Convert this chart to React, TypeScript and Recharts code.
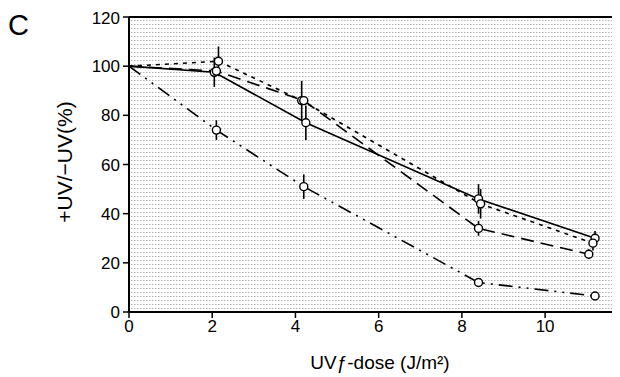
import { CartesianGrid, ErrorBar, Line, LineChart, ReferenceLine, XAxis, YAxis } from "recharts";

// dose (J/m2), survival (+UV/-UV %), error bar half-height, per curve
const solidDose = [0, 2.05, 4.25, 8.4, 11.2];
const solidPct = [100, 97.5, 77, 46, 30];
const solidErr = [0, 6, 7, 6, 3];

const dotDose = [0, 2.15, 4.15, 8.45, 11.15];
const dotPct = [100, 102, 86, 44, 28];
const dotErr = [0, 6, 8, 6, 3];

const dashDose = [0, 2.1, 4.2, 8.4, 11.05];
const dashPct = [100, 98, 86, 34, 23.5];
const dashErr = [0, 0, 0, 3, 2];

const dashDotDose = [0, 2.1, 4.2, 8.4, 11.2];
const dashDotPct = [100, 74, 51, 12, 6.5];
const dashDotErr = [0, 4, 5, 1.5, 1];

const xTicks = [0, 2, 4, 6, 8, 10];
const yTicks = [0, 20, 40, 60, 80, 100, 120];

const toRows = (xs: number[], ys: number[], es: number[]) => xs.map((x, i) => ({ x, y: ys[i], err: es[i] }));

const series = [
  { name: "solid", data: toRows(solidDose, solidPct, solidErr), dash: undefined },
  { name: "dotted", data: toRows(dotDose, dotPct, dotErr), dash: "4 5" },
  { name: "dashed", data: toRows(dashDose, dashPct, dashErr), dash: "13 7" },
  { name: "dashdot", data: toRows(dashDotDose, dashDotPct, dashDotErr), dash: "14 6 2 6 2 6" },
];

const font = "'Liberation Sans', Arial, Helvetica, sans-serif";

const renderDot = (props: any) => {
  const { cx, cy, index } = props;
  if (index === 0) return <g key={`d-${index}`} />;
  return <circle key={`d-${index}`} cx={cx} cy={cy} r={4} fill="#fff" stroke="#000" strokeWidth={1.4} />;
};

export default function App(): JSX.Element {
  return (
    <div style={{ position: "relative", width: 612, height: 369, fontFamily: font, color: "#000" }}>
      <div style={{ position: "absolute", left: 0, top: 0, fontSize: 29, lineHeight: "34px" }}>C</div>
      <div
        style={{
          position: "absolute",
          left: 57,
          top: 154,
          transform: "translate(-50%, -50%) rotate(-90deg)",
          whiteSpace: "nowrap",
          fontSize: 21,
        }}
      >
        +UV/−UV(%)
      </div>
      <div
        style={{
          position: "absolute",
          left: 372,
          top: 355,
          transform: "translate(-50%, -50%)",
          whiteSpace: "nowrap",
          fontSize: 19,
        }}
      >
        UVƒ-dose (J/m²)
      </div>
      <LineChart width={612} height={369} margin={{ top: 9, right: 0, left: 71, bottom: 35 }}>
        <defs>
          <pattern id="hatch" width="9" height="4" patternUnits="userSpaceOnUse">
            <rect x="0" y="0" width="9" height="4" fill="#fff" />
            <line x1="0" y1="0.5" x2="9" y2="0.5" stroke="#b4b4b4" strokeWidth="1" strokeDasharray="1.5 1.5" />
          </pattern>
        </defs>
        <CartesianGrid horizontal={false} vertical={false} fill="url(#hatch)" />
        <XAxis
          type="number"
          dataKey="x"
          domain={[0, 11.8]}
          ticks={xTicks}
          allowDataOverflow
          height={30}
          tickSize={6}
          tickMargin={2}
          axisLine={{ stroke: "#000", strokeWidth: 2 }}
          tickLine={{ stroke: "#000", strokeWidth: 1.5 }}
          tick={{ fill: "#000", fontSize: 17, fontFamily: font }}
        />
        <YAxis
          type="number"
          domain={[0, 120]}
          ticks={yTicks}
          width={50}
          tickSize={6}
          tickMargin={3}
          axisLine={{ stroke: "#000", strokeWidth: 2 }}
          tickLine={{ stroke: "#000", strokeWidth: 1.5 }}
          tick={{ fill: "#000", fontSize: 17, fontFamily: font }}
        />
        <ReferenceLine y={120} stroke="#000" strokeWidth={2} />
        {series.map((s) => (
          <Line
            key={s.name}
            data={s.data}
            dataKey="y"
            type="linear"
            stroke="#000"
            strokeWidth={1.6}
            strokeDasharray={s.dash}
            dot={renderDot}
            activeDot={false}
            isAnimationActive={false}
          >
            <ErrorBar dataKey="err" direction="y" width={0} stroke="#000" strokeWidth={1.6} />
          </Line>
        ))}
      </LineChart>
    </div>
  );
}
